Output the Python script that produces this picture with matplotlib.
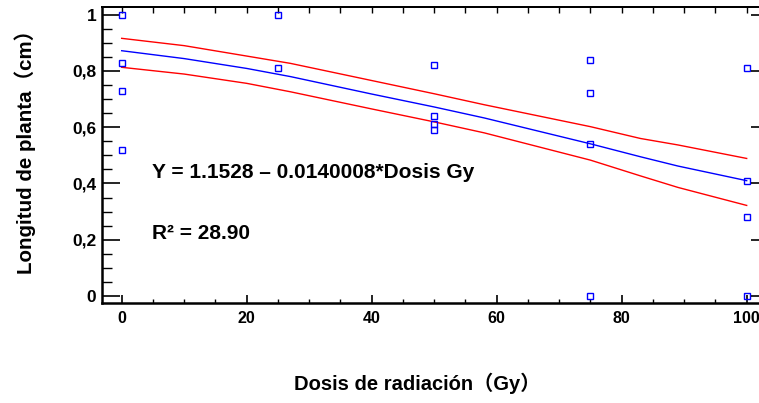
import matplotlib
matplotlib.use("Agg")
import matplotlib.pyplot as plt
from matplotlib.ticker import MultipleLocator, FixedLocator

plt.rcParams['font.family'] = ['Liberation Sans', 'Noto Sans CJK SC', 'DejaVu Sans']

# observed data
dose_x = [0, 0, 0, 0, 25, 25, 50, 50, 50, 50, 75, 75, 75, 75, 100, 100, 100, 100]
length_y = [1.0, 0.83, 0.73, 0.52, 1.0, 0.81, 0.82, 0.64, 0.61, 0.59,
            0.84, 0.72, 0.54, 0.0, 0.81, 0.41, 0.28, 0.0]

# fitted line and confidence limits
fit_x = [0, 10, 20, 27, 40, 50, 58, 75, 83, 89, 100]
fit_y = [0.872, 0.844, 0.809, 0.780, 0.718, 0.672, 0.633, 0.541, 0.495, 0.462, 0.410]
upper_y = [0.916, 0.890, 0.853, 0.827, 0.766, 0.719, 0.680, 0.602, 0.560, 0.537, 0.489]
lower_y = [0.813, 0.789, 0.756, 0.726, 0.665, 0.619, 0.580, 0.483, 0.427, 0.386, 0.322]

y_ticks = [0, 0.2, 0.4, 0.6, 0.8, 1.0]
y_tick_labels = ['0', '0,2', '0,4', '0,6', '0,8', '1']
x_ticks = [0, 20, 40, 60, 80, 100]
x_tick_labels = ['0', '20', '40', '60', '80', '100']

W, H = 759, 403
fig = plt.figure(figsize=(W / 100, H / 100), dpi=100)
ax = fig.add_axes([102 / W, 100 / H, (W - 102) / W, 296 / H])

ax.plot(fit_x, upper_y, color='#ff0000', lw=1.0)
ax.plot(fit_x, lower_y, color='#ff0000', lw=1.0)
ax.plot(fit_x, fit_y, color='#0000ff', lw=1.0)
ax.plot(dose_x, length_y, linestyle='none', marker='s', markersize=3.8,
        markerfacecolor='none', markeredgecolor='#0000ff', markeredgewidth=1.0)

ax.set_xlim(-3.15, 101.97)
ax.set_ylim(-0.0249, 1.0274)

ax.set_yticks(y_ticks)
ax.set_yticklabels(y_tick_labels, fontsize=12.5, fontweight='bold')
ax.set_xticks(x_ticks)
ax.set_xticklabels(x_tick_labels, fontsize=11.5, fontweight='bold')
ax.yaxis.set_minor_locator(MultipleLocator(0.05))
ax.xaxis.set_minor_locator(MultipleLocator(5))

ax.tick_params(axis='y', which='major', direction='in', length=13, width=1.2,
               left=True, right=False, pad=4)
ax.tick_params(axis='y', which='minor', direction='in', length=7, width=1.0,
               left=True, right=False)
ax.tick_params(axis='x', which='major', direction='in', length=6, width=1.2,
               bottom=True, top=False, pad=6)
ax.tick_params(axis='x', which='minor', direction='in', length=3, width=1.0,
               bottom=True, top=False)

# top ticks every 5 units, all the same length
top = ax.secondary_xaxis('top')
top.xaxis.set_major_locator(MultipleLocator(5))
top.tick_params(axis='x', which='major', direction='in', length=4, width=1.0,
                labeltop=False)
top.spines['top'].set_linewidth(1.4)

# right-side major ticks only
ax2 = ax.twinx()
ax2.set_ylim(ax.get_ylim())
ax2.yaxis.set_major_locator(FixedLocator(y_ticks))
ax2.yaxis.set_minor_locator(FixedLocator([]))
ax2.tick_params(axis='y', which='major', direction='in', length=6, width=1.2,
                labelright=False, right=True)
for s in ax2.spines.values():
    s.set_visible(False)

for name in ['left', 'bottom']:
    ax.spines[name].set_linewidth(1.8)
ax.spines['top'].set_linewidth(1.4)
ax.spines['right'].set_visible(False)

ax.set_xlabel('Dosis de radiación（Gy）', fontsize=14.5, fontweight='bold')
ax.xaxis.set_label_coords(0.479, -0.236)
ax.set_ylabel('Longitud de planta（cm）', fontsize=14.8, fontweight='bold')
ax.yaxis.set_label_coords(-0.1005, 0.527)

ax.text(4.8, 0.44, 'Y = 1.1528 – 0.0140008*Dosis Gy', fontsize=15,
        fontweight='bold', va='center', ha='left')
ax.text(4.8, 0.222, 'R² = 28.90', fontsize=15, fontweight='bold',
        va='center', ha='left')

fig.savefig('out.png', dpi=100)
